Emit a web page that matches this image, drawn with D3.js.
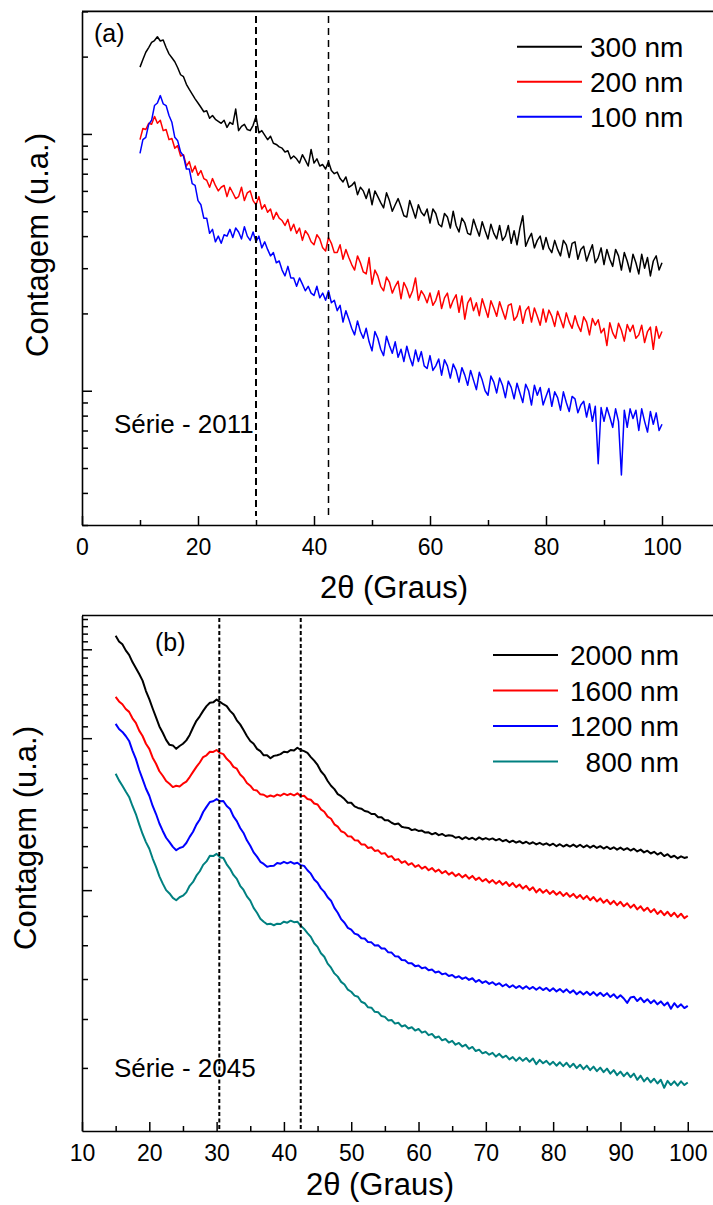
<!DOCTYPE html>
<html>
<head>
<meta charset="utf-8">
<script src="https://cdn.jsdelivr.net/npm/d3@7"></script>
<style>
  body { margin: 0; background: #fff; }
  svg { display: block; }
</style>
</head>
<body>
<svg id="chart" width="713" height="1205"></svg>
<script>
// ---- Série 2011: 2θ from 10° to 100°, sampled every 0.5° ----
const twoThetaStartA = 10;
const twoThetaStartB = 15;
const twoThetaStep = 0.5;

const counts300 = [
  18200,19500,20800,21700,22700,23100,23900,23000,23200,21700,
  20500,19800,19100,18100,17000,16700,15600,14900,14300,13700,
  13200,12700,12200,12300,11500,11800,11400,11200,11000,11300,
  10600,11100,10900,12500,10300,10700,10900,10400,10300,10800,
  11700,10100,10300,9900,9500,9800,9200,9100,8900,8800,
  8500,8600,8000,8200,8000,7700,8300,7900,7500,8700,
  7700,8000,7500,7600,7300,7800,7200,7000,7100,6700,
  6500,6800,6200,6300,6500,5800,6200,6000,5600,6100,
  5300,6000,5700,5400,5150,5900,5500,5000,5300,5600,
  5200,4800,4750,5500,5100,4700,5300,4950,4800,5100,
  4500,5100,4900,4450,4350,4900,4750,4300,5000,4400,
  4150,4700,4500,4100,4050,4650,4300,4000,4550,4200,
  3900,4450,4100,3900,4400,3850,4000,4400,3750,4200,
  3700,4300,4800,3650,3900,4100,3600,3850,4000,3550,
  3950,3600,3450,3850,3550,3350,3850,3700,3300,3750,
  3800,3250,3550,3650,3200,3450,3700,3150,3300,3600,
  3100,3550,3250,3050,3550,3350,2950,3450,3200,2900,
  3400,3150,2850,3400,3000,3300,2800,3200,3350,2950,
  3150
];

const counts200 = [
  9500,10500,10400,11000,10900,11700,11000,11300,10300,10400,
  9500,9600,8800,9000,8200,8300,7500,7800,7100,7500,
  6900,7200,6700,6600,6200,6700,6300,6000,6200,6300,
  5700,6200,5900,5600,5700,6200,5500,5900,6000,5500,
  5300,5700,5100,5300,4950,5100,4650,4950,4700,4600,
  4400,4650,4200,4450,4100,4300,3850,4200,4050,3800,
  3700,4050,3900,3600,3500,3950,3750,3450,3450,3700,
  3250,3550,3300,3100,2950,3350,3150,2900,2850,3300,
  2600,2950,2800,2550,2450,2770,2650,2400,2550,2670,
  2280,2640,2500,2300,2450,2750,2250,2450,2350,2200,
  2400,2150,2250,2450,2090,2300,2400,2100,2250,2365,
  2020,2340,1900,2200,2300,2050,2200,1960,2280,2100,
  1930,2240,2100,1950,2220,2050,1900,2150,2180,1880,
  1950,2140,1830,2050,2125,1850,2100,1950,1800,2080,
  1850,2060,1950,1780,2040,1900,1760,2010,1850,1750,
  1960,1800,1700,1940,1850,1650,1910,1800,1890,1680,
  1750,1500,1840,1680,1600,1830,1720,1560,1810,1700,
  1800,1600,1650,1800,1540,1700,1770,1450,1780,1600,
  1700
];

const counts100 = [
  8400,9500,9700,10900,11300,12900,13200,14100,13100,12900,
  11800,11100,9700,9400,8500,8200,7300,7300,6400,6300,
  5500,5300,4700,4700,4100,4250,3800,4000,3750,4050,
  4000,4250,3950,4300,4150,3900,4350,4000,3850,4150,
  3800,4000,3600,3800,3550,3350,3450,3150,3200,2950,
  2800,3050,2750,2750,2550,2750,2600,2450,2550,2400,
  2350,2550,2300,2400,2250,2450,2200,2250,2050,2150,
  1850,2050,1900,1750,1650,1870,1700,1600,1750,1550,
  1430,1700,1600,1450,1370,1630,1500,1400,1550,1350,
  1450,1300,1490,1350,1250,1440,1300,1420,1250,1220,
  1370,1200,1250,1330,1150,1320,1250,1120,1270,1200,
  1080,1230,1150,1050,1200,1100,1010,1180,1100,1000,
  960,1140,1080,980,1120,1050,940,1090,1030,930,
  1070,980,900,1060,1000,880,1050,960,1030,880,
  950,1020,870,990,940,840,990,900,830,950,
  930,820,880,910,790,890,760,870,520,860,
  760,860,790,720,850,760,470,840,720,850,
  780,840,700,850,760,690,830,740,820,700,
  740
];

// ---- Série 2045: 2θ from 15° to 100°, sampled every 0.5° ----
const counts2000 = [
  3190,3110,3070,2985,2925,2830,2755,2680,2600,2480,
  2390,2290,2200,2110,2050,1985,1940,1935,1905,1930,
  1950,1980,2030,2100,2165,2210,2265,2315,2350,2355,
  2385,2360,2335,2315,2265,2230,2170,2130,2075,2020,
  1975,1950,1905,1885,1850,1850,1825,1845,1850,1860,
  1880,1875,1895,1890,1915,1895,1885,1870,1835,1805,
  1770,1720,1690,1645,1610,1585,1550,1535,1515,1490,
  1490,1465,1455,1450,1435,1430,1415,1415,1395,1395,
  1375,1375,1360,1350,1355,1335,1330,1328,1315,1320,
  1310,1312,1300,1302,1290,1298,1285,1292,1280,1285,
  1282,1270,1275,1262,1273,1262,1270,1258,1272,1260,
  1268,1259,1266,1255,1263,1250,1258,1244,1253,1242,
  1250,1238,1247,1235,1244,1232,1241,1230,1238,1226,
  1236,1222,1233,1220,1230,1220,1231,1218,1230,1216,
  1227,1214,1225,1212,1222,1209,1219,1206,1216,1203,
  1214,1201,1211,1198,1208,1193,1203,1188,1197,1182,
  1191,1176,1186,1168,1178,1162,1170,1156,1167,1158,
  1163
];

const counts1600 = [
  2415,2365,2335,2285,2255,2190,2145,2070,2020,1950,
  1905,1830,1780,1720,1685,1645,1625,1600,1610,1605,
  1625,1640,1675,1715,1755,1790,1835,1850,1880,1878,
  1895,1870,1860,1820,1795,1755,1740,1695,1670,1630,
  1610,1580,1575,1548,1545,1530,1540,1532,1546,1538,
  1553,1542,1552,1540,1555,1535,1538,1515,1510,1485,
  1478,1445,1430,1398,1385,1350,1336,1308,1300,1278,
  1277,1256,1254,1232,1232,1212,1216,1196,1199,1180,
  1184,1163,1168,1147,1152,1132,1141,1122,1131,1112,
  1121,1103,1113,1095,1106,1088,1098,1080,1091,1073,
  1084,1066,1077,1060,1072,1054,1067,1048,1059,1041,
  1052,1035,1047,1030,1043,1025,1038,1019,1033,1014,
  1026,1007,1020,1000,1013,990,1005,988,1001,983,
  996,979,992,974,987,970,983,965,978,960,
  974,955,969,950,963,944,957,938,952,934,
  948,929,942,923,936,916,929,910,923,904,
  917,897,910,892,906,888,902,884,898,880,
  890
];

const counts1200 = [
  2135,2085,2058,2020,1975,1890,1820,1730,1660,1590,
  1538,1468,1415,1355,1310,1270,1245,1218,1200,1212,
  1218,1240,1275,1305,1348,1380,1428,1462,1495,1500,
  1515,1500,1502,1468,1448,1400,1370,1328,1298,1255,
  1224,1188,1165,1138,1127,1112,1117,1118,1132,1128,
  1138,1130,1138,1128,1133,1120,1117,1095,1078,1050,
  1034,1008,992,968,953,922,902,876,862,842,
  835,820,816,803,802,789,788,777,778,766,
  766,753,752,740,739,727,726,716,716,707,
  709,700,703,694,696,687,690,681,684,676,
  679,671,675,667,672,664,669,658,664,655,
  660,652,657,649,654,645,651,642,648,640,
  646,638,645,637,643,635,642,634,640,631,
  639,630,637,628,636,626,633,622,630,621,
  629,620,628,618,626,617,625,614,622,611,
  619,610,598,613,615,603,612,600,608,597,
  605,594,602,591,599,582,597,586,594,584,
  590
];

const counts800 = [
  1700,1650,1610,1568,1530,1468,1415,1350,1292,1245,
  1208,1155,1112,1065,1030,1000,985,965,955,968,
  975,990,1020,1038,1068,1090,1122,1140,1170,1168,
  1180,1162,1158,1125,1102,1072,1053,1020,1001,972,
  953,922,902,878,866,856,858,852,858,857,
  866,862,870,864,866,850,838,822,808,785,
  772,750,738,715,702,684,674,658,650,635,
  629,618,615,601,597,586,585,574,573,563,
  561,552,553,544,546,537,540,532,535,527,
  531,522,525,516,519,510,513,504,507,499,
  503,494,498,490,494,485,489,480,483,475,
  478,472,476,468,474,466,470,462,467,459,
  466,459,465,457,464,452,461,454,459,451,
  457,449,456,448,455,446,453,444,451,442,
  449,440,447,438,445,436,443,433,440,430,
  437,428,435,426,433,421,429,418,425,416,
  423,414,421,406,419,411,418,410,418,411,
  416
];

// Legend labels, colours and reference peak positions
const legendA = ["300 nm", "200 nm", "100 nm"];
const legendB = ["2000 nm", "1600 nm", "1200 nm", " 800 nm"];
const colorsA = ["#000000", "#ff0000", "#0000ff"];
const colorsB = ["#000000", "#ff0000", "#0000ff", "#008080"];
const peaksA = [30, 42.5];
const peaksB = [30.4, 42.5];

// Axis ticks
const xMajorA = [0, 20, 40, 60, 80, 100];
const xMinorA = [10, 30, 50, 70, 90];
const xMajorB = [10, 20, 30, 40, 50, 60, 70, 80, 90, 100];
const xMinorB = [15, 25, 35, 45, 55, 65, 75, 85, 95];
const yMajorB = [1000, 2000, 3000];
const yMinorPerMajorB = 9;

const FONT = '"Liberation Sans", Arial, Helvetica, sans-serif';
const svg = d3.select("#chart");

function drawPanel(cfg) {
  const g = svg.append("g");
  const x = d3.scaleLinear().domain(cfg.xDomain).range([cfg.left, cfg.right]);
  const y = d3.scaleLog().domain(cfg.yDomain).range([cfg.bottom, cfg.top]);

  // Diffraction curves
  const line = d3.line().x(d => x(d[0])).y(d => y(d[1]));
  cfg.series.forEach((vals, k) => {
    const pts = vals.map((v, i) => [cfg.start + i * twoThetaStep, v]);
    g.append("path")
      .datum(pts)
      .attr("fill", "none")
      .attr("stroke", cfg.colors[k])
      .attr("stroke-width", cfg.lineWidth)
      .attr("stroke-linejoin", "round")
      .attr("d", line);
  });

  // Dashed reference lines at the peak positions
  cfg.peaks.forEach((p, i) => {
    const st = cfg.peakStyle[i];
    g.append("line")
      .attr("x1", x(p)).attr("x2", x(p))
      .attr("y1", cfg.peakY[0]).attr("y2", cfg.peakY[1])
      .attr("stroke", "#000")
      .attr("stroke-width", st.w)
      .attr("stroke-dasharray", st.dash);
  });

  // Frame top line
  g.append("line")
    .attr("x1", cfg.left).attr("x2", cfg.right + 10)
    .attr("y1", cfg.top).attr("y2", cfg.top)
    .attr("stroke", "#000").attr("stroke-width", 1.6);

  // Bottom axis: major ticks with labels, minor ticks without
  const xa = g.append("g")
    .attr("transform", `translate(0,${cfg.bottom})`)
    .call(d3.axisBottom(x).tickValues(cfg.xMajor).tickSize(-9).tickSizeOuter(0).tickPadding(14));
  xa.attr("font-size", 23).attr("font-family", FONT);
  xa.selectAll(".tick line").attr("stroke-width", 1.5);
  xa.select(".domain").attr("stroke-width", 1.6);
  xa.selectAll("text").attr("fill", "#000");

  const xm = g.append("g")
    .attr("transform", `translate(0,${cfg.bottom})`)
    .call(d3.axisBottom(x).tickValues(cfg.xMinor).tickSize(-5).tickFormat(""));
  xm.select(".domain").remove();
  xm.selectAll(".tick line").attr("stroke-width", 1.5);

  // Left axis: log ticks, no labels
  const ya = g.append("g")
    .attr("transform", `translate(${cfg.left},0)`)
    .call(d3.axisLeft(y).tickValues(cfg.yMajor).tickSize(-10).tickSizeOuter(0).tickFormat(""));
  ya.select(".domain").attr("stroke-width", 1.6);
  ya.selectAll(".tick line").attr("stroke-width", 1.5);

  const ym = g.append("g")
    .attr("transform", `translate(${cfg.left},0)`)
    .call(d3.axisLeft(y).tickValues(cfg.yMinor).tickSize(-6).tickFormat(""));
  ym.select(".domain").remove();
  ym.selectAll(".tick line").attr("stroke-width", 1.5);

  // Axis titles
  g.append("text")
    .attr("x", cfg.xTitle[0]).attr("y", cfg.xTitle[1])
    .attr("text-anchor", "middle")
    .attr("font-family", FONT).attr("font-size", 31)
    .text("2θ (Graus)");
  g.append("text")
    .attr("transform", `translate(${cfg.yTitle[0]},${cfg.yTitle[1]}) rotate(-90)`)
    .attr("text-anchor", "middle")
    .attr("font-family", FONT).attr("font-size", 31)
    .text("Contagem (u.a.)");

  // Panel tag and series label
  g.append("text")
    .attr("x", cfg.tag[0]).attr("y", cfg.tag[1])
    .attr("font-family", FONT).attr("font-size", 25)
    .text(cfg.tagText);
  g.append("text")
    .attr("x", cfg.serie[0]).attr("y", cfg.serie[1])
    .attr("font-family", FONT).attr("font-size", 26)
    .text(cfg.serieText);

  // Legend
  cfg.legend.forEach((name, i) => {
    const ly = cfg.legendY + i * cfg.legendGap;
    g.append("line")
      .attr("x1", cfg.legendLine[0]).attr("x2", cfg.legendLine[1])
      .attr("y1", ly).attr("y2", ly)
      .attr("stroke", cfg.colors[i]).attr("stroke-width", 2);
    g.append("text")
      .attr("x", cfg.legendText).attr("y", ly + 10)
      .attr("text-anchor", cfg.legendAnchor)
      .attr("font-family", FONT).attr("font-size", 28)
      .style("white-space", "pre")
      .text(name);
  });
}

// Panel (a): log ticks at every 1..9 × 10^n
const yDomainA = [300, 30000];
const yScaleA = d3.scaleLog().domain(yDomainA);
const yAllA = yScaleA.ticks();
const yMajorA = yAllA.filter(v => Math.abs(Math.log10(v) - Math.round(Math.log10(v))) < 1e-9);
const yMinorA = yAllA.filter(v => !yMajorA.includes(v));

drawPanel({
  xDomain: [0, 110], yDomain: yDomainA,
  left: 82, right: 720, top: 11.4, bottom: 525,
  start: twoThetaStartA,
  series: [counts300, counts200, counts100],
  colors: colorsA, lineWidth: 1.5,
  peaks: peaksA, peakY: [16, 516],
  peakStyle: [{ w: 2, dash: "7,4" }, { w: 1.5, dash: "7,5" }],
  xMajor: xMajorA, xMinor: xMinorA,
  yMajor: yMajorA, yMinor: yMinorA,
  xTitle: [394, 598], yTitle: [48, 245],
  tag: [94, 42], tagText: "(a)",
  serie: [114, 433], serieText: "Série - 2011",
  legend: legendA, legendY: 46.7, legendGap: 35,
  legendLine: [517, 582], legendText: 590, legendAnchor: "start"
});

// Panel (b): major ticks every 1000 counts, 9 intervals between them
const yDomainB = [333.3, 3500];
const minorStepB = (yMajorB[1] - yMajorB[0]) / yMinorPerMajorB;
const yMinorB = d3.range(-20, 40)
  .map(k => yMajorB[0] + k * minorStepB)
  .filter(v => v >= yDomainB[0] * 1.001 && v <= yDomainB[1] && !yMajorB.some(m => Math.abs(m - v) < 1e-6));

drawPanel({
  xDomain: [10, 105], yDomain: yDomainB,
  left: 82, right: 721.4, top: 615.5, bottom: 1131,
  start: twoThetaStartB,
  series: [counts2000, counts1600, counts1200, counts800],
  colors: colorsB, lineWidth: 2,
  peaks: peaksB, peakY: [618, 1131],
  peakStyle: [{ w: 2, dash: "4,2.5" }, { w: 2, dash: "4,2.5" }],
  xMajor: xMajorB, xMinor: xMinorB,
  yMajor: yMajorB, yMinor: yMinorB,
  xTitle: [380, 1195], yTitle: [36, 838],
  tag: [155, 651], tagText: "(b)",
  serie: [114, 1077], serieText: "Série - 2045",
  legend: legendB, legendY: 655, legendGap: 35.5,
  legendLine: [493, 558], legendText: 679, legendAnchor: "end"
});
</script>
</body>
</html>
